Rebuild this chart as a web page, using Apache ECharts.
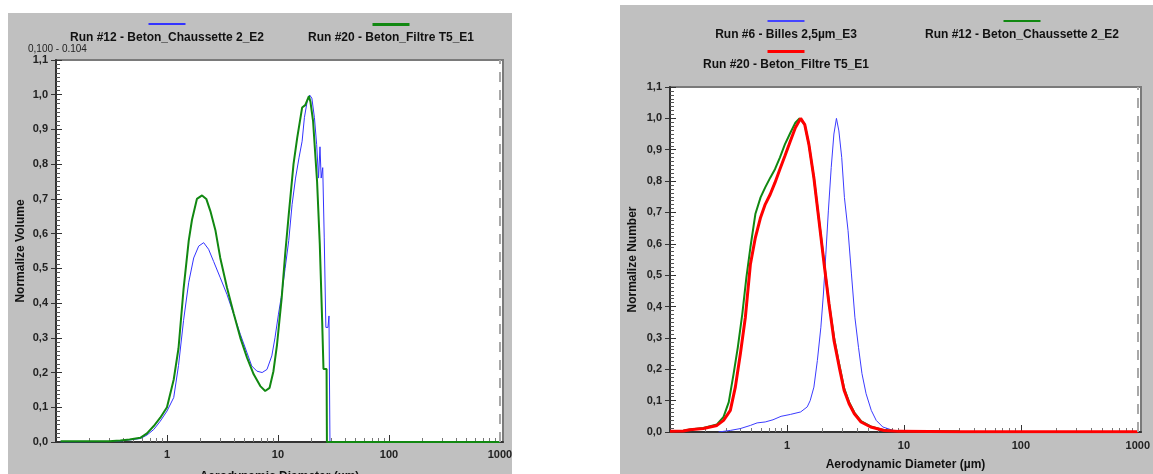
<!DOCTYPE html>
<html>
<head>
<meta charset="utf-8">
<script src="https://cdn.jsdelivr.net/npm/echarts@6/dist/echarts.min.js"></script>
<style>
body{margin:0;background:#fff;width:1153px;height:474px;position:relative;overflow:hidden;}
.box-l{position:absolute;left:8px;top:13px;width:504px;height:461px;background:#c0c0c0;}
.box-r{position:absolute;left:620px;top:5px;width:533px;height:469px;background:#c0c0c0;}
</style>
</head>
<body>
<div class="box-l"></div>
<div class="box-r"></div>
<script>
// x axis ticks (µm)
var decadeLabels = [1, 10, 100, 1000];
var majorTicks = [1, 10, 100, 1000];
var minorTicks = [0.2,0.3,0.4,0.5,0.6,0.7,0.8,0.9, 2,3,4,5,6,7,8,9, 20,30,40,50,60,70,80,90, 200,300,400,500,600,700,800,900];

// left chart : volume
var volBetonChaussetteD = [0.11,0.3,0.38,0.46,0.575,0.66,0.76,0.87,1.0,1.15,1.27,1.41,1.57,1.74,1.93,2.14,2.37,2.63,3.02,3.47,3.99,4.58,5.26,5.8,6.46,7.2,7.96,8.8,9.4,10.1,10.8,11.6,12.5,13.4,14.4,15.5,16.5,17.3,18.3,19.3,20.2,21.3,22.3,23.2,23.9,24.5,25.3,26.1,27.0,28.2,28.8,29.4,40,100,1000];
var volBetonChaussette  = [0,0.001,0.003,0.006,0.01,0.02,0.036,0.06,0.089,0.128,0.22,0.35,0.46,0.53,0.564,0.574,0.555,0.52,0.473,0.425,0.368,0.31,0.257,0.219,0.204,0.2,0.209,0.248,0.3,0.368,0.425,0.5,0.58,0.684,0.76,0.82,0.866,0.934,0.98,0.999,0.99,0.934,0.857,0.76,0.85,0.76,0.79,0.59,0.33,0.33,0.363,0,0,0,0];
var volBetonFiltreD = [0.11,0.2,0.3,0.38,0.46,0.575,0.66,0.76,0.87,1.0,1.15,1.27,1.41,1.57,1.68,1.86,2.07,2.26,2.46,2.73,3.02,3.47,3.99,4.58,5.26,6.04,6.93,7.67,8.4,9.1,9.8,10.8,11.6,12.5,13.8,14.9,16.5,17.6,19.0,19.6,20.7,22.5,23.8,25.0,25.7,27.4,27.6,40,100,1000];
var volBetonFiltre  = [0.002,0.002,0.002,0.004,0.007,0.012,0.025,0.046,0.07,0.1,0.18,0.27,0.44,0.58,0.64,0.7,0.71,0.7,0.665,0.61,0.53,0.445,0.37,0.3,0.243,0.195,0.161,0.147,0.156,0.204,0.28,0.415,0.54,0.655,0.8,0.876,0.963,0.97,0.996,0.98,0.925,0.75,0.57,0.35,0.21,0.21,0,0,0,0];

// right chart : number
var numBillesD = [0.26,0.328,0.4,0.487,0.556,0.652,0.76,0.89,1.07,1.31,1.49,1.58,1.7,1.82,1.95,2.05,2.15,2.26,2.39,2.52,2.65,2.78,2.94,3.1,3.33,3.56,3.81,4.09,4.38,4.75,5.26,5.8,6.6,8.1,10.6];
var numBilles  = [0,0.005,0.011,0.021,0.029,0.032,0.039,0.05,0.056,0.064,0.08,0.1,0.143,0.228,0.334,0.44,0.567,0.705,0.843,0.95,1.0,0.96,0.875,0.748,0.642,0.504,0.366,0.27,0.186,0.122,0.069,0.037,0.016,0.005,0.001];
var numBetonChaussetteD = [0.1,0.13,0.148,0.193,0.252,0.287,0.318,0.35,0.38,0.415,0.45,0.487,0.537,0.595,0.652,0.72,0.79,0.87,0.96,1.07,1.18,1.28,1.42,1.54,1.7,1.88,2.08,2.29,2.53,2.8,3.08,3.4,3.77,4.3,5.2,6.78,9.0,30];
var numBetonChaussette  = [0.002,0.004,0.008,0.013,0.024,0.048,0.095,0.186,0.27,0.376,0.493,0.589,0.695,0.748,0.78,0.811,0.838,0.875,0.917,0.954,0.986,1.0,0.98,0.917,0.81,0.675,0.54,0.41,0.3,0.215,0.14,0.095,0.062,0.035,0.018,0.006,0.002,0.002];
var numBetonFiltreD = [0.1,0.13,0.148,0.193,0.252,0.287,0.328,0.362,0.4,0.441,0.487,0.537,0.595,0.652,0.72,0.79,0.87,0.96,1.07,1.18,1.31,1.42,1.54,1.7,1.88,2.08,2.29,2.53,2.8,3.08,3.4,3.77,4.3,5.2,6.78,9.0,30,100,1000];
var numBetonFiltre  = [0.002,0.003,0.007,0.011,0.021,0.037,0.069,0.143,0.25,0.366,0.535,0.62,0.684,0.726,0.758,0.795,0.838,0.88,0.928,0.97,1.0,0.98,0.917,0.81,0.673,0.535,0.408,0.29,0.207,0.133,0.09,0.058,0.032,0.016,0.005,0.002,0.001,0.001,0.001];

var FONT = "'Liberation Sans', Arial, sans-serif";

function zip(d, v){
    var out = [];
    for (var i = 0; i < d.length; i++) out.push([d[i], v[i]]);
    return out;
}

function legendItem(name, color, barH, cx, top){
    return {
        data: [name],
        left: cx - 115,
        top: top,
        padding: 0,
        icon: 'none',
        itemWidth: 0,
        itemHeight: 0,
        selectedMode: false,
        formatter: '{bar| }\n{txt|{name}}',
        textStyle: {
            rich: {
                bar: {width: 37, height: barH, backgroundColor: color, lineHeight: 13, fontSize: 1, align: 'center'},
                txt: {width: 220, align: 'center', fontSize: 12, fontWeight: 'bold', color: '#111', lineHeight: 14, fontFamily: FONT}
            }
        }
    };
}

function xAxes(max, labelMargin, nameGap){
    return [
        {
            type: 'log', logBase: 10, min: 0.1, max: max,
            name: 'Aerodynamic Diameter (µm)', nameLocation: 'middle', nameGap: nameGap,
            nameTextStyle: {fontFamily: FONT, fontSize: 12, fontWeight: 'bold', color: '#111'},
            axisLine: {onZero: false, lineStyle: {color: '#333', width: 2}},
            axisTick: {inside: true, length: 7, customValues: majorTicks, lineStyle: {color: '#333'}},
            axisLabel: {customValues: decadeLabels, margin: labelMargin, fontFamily: FONT, fontSize: 11, fontWeight: 'bold', color: '#222',
                formatter: function(v){ return String(Math.round(v)); }},
            splitLine: {show: false}
        },
        {
            type: 'log', logBase: 10, min: 0.1, max: max, position: 'bottom',
            axisLine: {show: false},
            axisTick: {inside: true, length: 4, customValues: minorTicks, lineStyle: {color: '#777'}},
            axisLabel: {show: false},
            splitLine: {show: false}
        }
    ];
}

function yAxes(name, nameGap, minorSplit){
    return [
        {
            type: 'value', min: 0, max: 1.1, interval: 0.1,
            name: name, nameLocation: 'middle', nameGap: nameGap, nameMoveOverlap: false,
            nameTextStyle: {fontFamily: FONT, fontSize: 12, fontWeight: 'bold', color: '#111'},
            axisLine: {show: true, lineStyle: {color: '#333', width: 2}},
            axisTick: {show: true, length: 5, lineStyle: {color: '#333'}},
            axisLabel: {margin: 8, fontFamily: FONT, fontSize: 11, fontWeight: 'bold', color: '#222',
                formatter: function(v){ return v.toFixed(1).replace('.', ','); }},
            splitLine: {show: false}
        },
        {
            type: 'value', min: 0, max: 1.1, interval: 0.1, position: 'left',
            axisLine: {show: false},
            axisTick: {show: true, inside: true, length: 6, lineStyle: {color: '#333'}},
            minorTick: {show: true, splitNumber: minorSplit, length: 4, lineStyle: {color: '#555'}},
            axisLabel: {show: false},
            splitLine: {show: false}
        }
    ];
}

var gridLine = {
    silent: true, symbol: 'none', label: {show: false},
    lineStyle: {type: [10, 8], color: '#a8a8a8', width: 2},
    data: [{xAxis: 1000}]
};

window.onload = function(){
    var elL = document.querySelector('.box-l');
    var chartL = echarts.init(elL);
    var optionL = {
        animation: false,
        legend: [
            legendItem('Run #12 - Beton_Chaussette 2_E2', '#3333ff', 2, 159, 10),
            legendItem('Run #20 - Beton_Filtre T5_E1', '#118811', 3, 383, 10)
        ],
        graphic: [
            {type: 'text', left: 20, top: 31, style: {text: '0,100 - 0.104', fontSize: 10, fontFamily: FONT, fill: '#222'}}
        ],
        grid: {left: 48, top: 47, right: 9, bottom: 32, outerBoundsMode: 'none', show: true, backgroundColor: '#fff', borderColor: '#7a7a7a', borderWidth: 2},
        xAxis: xAxes(1065, 7, 29),
        yAxis: yAxes('Normalize Volume', 29, 8),
        series: [
            {
                name: 'Run #12 - Beton_Chaussette 2_E2', type: 'line',
                showSymbol: false, color: '#3333ff', lineStyle: {width: 1},
                data: zip(volBetonChaussetteD, volBetonChaussette),
                markLine: gridLine
            },
            {
                name: 'Run #20 - Beton_Filtre T5_E1', type: 'line',
                showSymbol: false, color: '#118811', lineStyle: {width: 2},
                data: zip(volBetonFiltreD, volBetonFiltre)
            }
        ]
    };
    chartL.setOption(optionL);

    var elR = document.querySelector('.box-r');
    var chartR = echarts.init(elR);
    var optionR = {
        animation: false,
        legend: [
            legendItem('Run #6 - Billes 2,5µm_E3', '#4444ff', 2, 166, 15),
            legendItem('Run #12 - Beton_Chaussette 2_E2', '#118811', 2, 402, 15),
            legendItem('Run #20 - Beton_Filtre T5_E1', '#ff0000', 3, 166, 45)
        ],
        grid: {left: 50, top: 82, right: 12, bottom: 42, outerBoundsMode: 'none', show: true, backgroundColor: '#fff', borderColor: '#7a7a7a', borderWidth: 2},
        xAxis: xAxes(1065, 8, 27),
        yAxis: yAxes('Normalize Number', 31, 8),
        series: [
            {
                name: 'Run #6 - Billes 2,5µm_E3', type: 'line',
                showSymbol: false, color: '#3b3bff', lineStyle: {width: 1},
                data: zip(numBillesD, numBilles),
                markLine: gridLine
            },
            {
                name: 'Run #12 - Beton_Chaussette 2_E2', type: 'line',
                showSymbol: false, color: '#118811', lineStyle: {width: 2},
                data: zip(numBetonChaussetteD, numBetonChaussette)
            },
            {
                name: 'Run #20 - Beton_Filtre T5_E1', type: 'line',
                showSymbol: false, color: '#ff0000', lineStyle: {width: 3},
                data: zip(numBetonFiltreD, numBetonFiltre)
            }
        ]
    };
    chartR.setOption(optionR);
};
</script>
</body>
</html>
